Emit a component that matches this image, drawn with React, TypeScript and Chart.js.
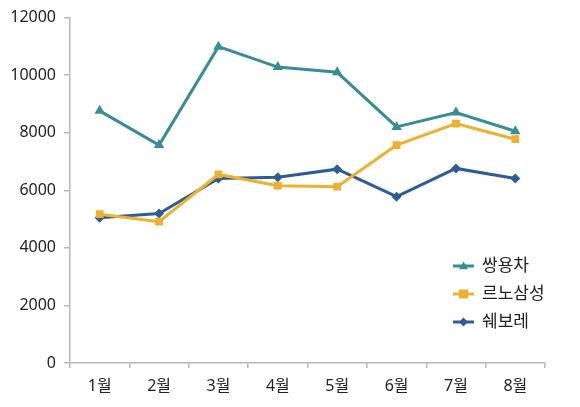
import React, { useEffect, useRef } from "react";
import { Chart, registerables } from "chart.js";

Chart.register(...registerables);

const categories = ["1월", "2월", "3월", "4월", "5월", "6월", "7월", "8월"];
const ssangyong = [8760, 7570, 10990, 10280, 10100, 8200, 8700, 8050];
const renault = [5170, 4910, 6550, 6160, 6125, 7570, 8315, 7775];
const chevrolet = [5050, 5190, 6410, 6450, 6735, 5780, 6760, 6410];
const seriesNames = ["쌍용차", "르노삼성", "쉐보레"];
const yTicks = [0, 2000, 4000, 6000, 8000, 10000, 12000];

const colors = ["#3A8D95", "#EDB12F", "#305C95"];
const pointStyles = ["triangle", "rect", "rectRot"] as const;
const pointRadii = [6, 5.5, 5];

const FONT = "'Noto Sans', 'Noto Sans CJK KR', sans-serif";

const legendPlugin = {
  id: "customLegend",
  afterDraw(chart: any) {
    const ctx = chart.ctx as CanvasRenderingContext2D;
    const x0 = 453;
    const x1 = 474;
    const ys = [266, 294, 322];
    ctx.save();
    chart.data.datasets.forEach((ds: any, i: number) => {
      const y = ys[i];
      ctx.strokeStyle = ds.borderColor;
      ctx.lineWidth = 3;
      ctx.beginPath();
      ctx.moveTo(x0, y);
      ctx.lineTo(x1, y);
      ctx.stroke();
      ctx.fillStyle = ds.borderColor;
      const cx = (x0 + x1) / 2;
      const r = 4.5;
      ctx.beginPath();
      if (ds.pointStyle === "triangle") {
        ctx.moveTo(cx, y - r);
        ctx.lineTo(cx + r, y + r * 0.7);
        ctx.lineTo(cx - r, y + r * 0.7);
        ctx.closePath();
      } else if (ds.pointStyle === "rect") {
        ctx.rect(cx - r, y - r, 2 * r, 2 * r);
      } else {
        ctx.moveTo(cx, y - r);
        ctx.lineTo(cx + r, y);
        ctx.lineTo(cx, y + r);
        ctx.lineTo(cx - r, y);
        ctx.closePath();
      }
      ctx.fill();
      ctx.fillStyle = "#222";
      ctx.font = `17px ${FONT}`;
      ctx.textBaseline = "middle";
      ctx.textAlign = "left";
      ctx.fillText(ds.label, 482, y);
    });
    ctx.restore();
  },
};

export default function App() {
  const ref = useRef<HTMLCanvasElement | null>(null);

  useEffect(() => {
    document.body.style.margin = "0";
    const canvas = ref.current;
    if (!canvas) return;
    const data = [ssangyong, renault, chevrolet];
    const chart = new Chart(canvas, {
      type: "line",
      data: {
        labels: categories,
        datasets: data.map((d, i) => ({
          label: seriesNames[i],
          data: d,
          borderColor: colors[i],
          backgroundColor: colors[i],
          borderWidth: 3,
          pointStyle: pointStyles[i],
          pointRadius: pointRadii[i],
          pointBorderWidth: 0,
          pointBackgroundColor: colors[i],
          tension: 0,
          fill: false,
        })),
      },
      options: {
        animation: false,
        responsive: false,
        devicePixelRatio: 1,
        layout: { padding: { left: 0, right: 35, top: 15, bottom: 0 } },
        plugins: {
          legend: { display: false },
          tooltip: { enabled: false },
        },
        scales: {
          x: {
            type: "category",
            offset: true,
            border: { color: "#B8B8B8", width: 1.5 },
            grid: {
              offset: true,
              drawOnChartArea: false,
              drawTicks: true,
              tickLength: 5,
              color: "#B8B8B8",
              lineWidth: 1.5,
            },
            ticks: {
              color: "#222",
              font: { family: FONT, size: 16 },
              padding: 9,
              maxRotation: 0,
            },
            afterFit(scale: any) {
              scale.height = 44;
            },
          },
          y: {
            min: 0,
            max: 12000,
            afterBuildTicks(scale: any) {
              scale.ticks = yTicks.map((v) => ({ value: v }));
            },
            border: { color: "#B8B8B8", width: 1.5 },
            grid: {
              drawOnChartArea: false,
              drawTicks: true,
              tickLength: 6,
              color: "#B8B8B8",
              lineWidth: 1.5,
            },
            ticks: {
              color: "#222",
              font: { family: FONT, size: 16 },
              padding: 8,
              callback: (v: any) => String(v),
            },
            afterFit(scale: any) {
              scale.width = 70;
            },
          },
        },
      },
      plugins: [legendPlugin],
    });
    return () => chart.destroy();
  }, []);

  return (
    <div style={{ width: 580, height: 407, background: "#fff" }}>
      <canvas ref={ref} width={580} height={407} style={{ display: "block" }} />
    </div>
  );
}
